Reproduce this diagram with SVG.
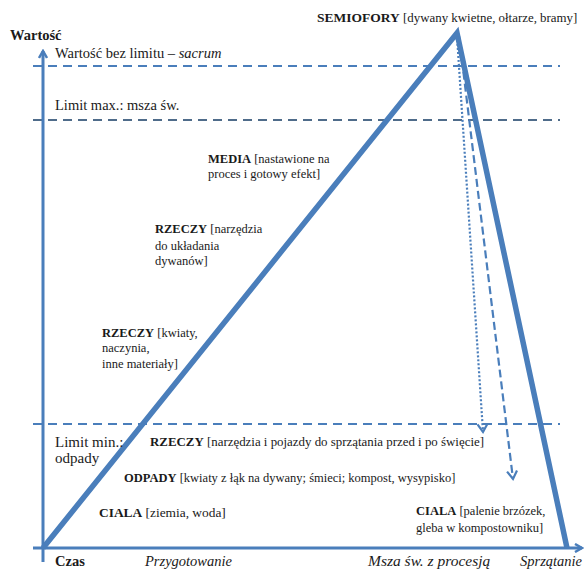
<svg xmlns="http://www.w3.org/2000/svg" width="585" height="570" viewBox="0 0 585 570" font-family="Liberation Serif, Times New Roman, serif">
<style>
text{fill:#1a1a1a}
.t{font-size:12.5px}
.tm{font-size:13.4px}
.l{font-size:14.5px}
.b{font-weight:bold}
.i{font-style:italic}
.ax{stroke:#4a7ebb;stroke-width:3;fill:none}
.tri{stroke:#4a7ebb;stroke-width:5.5;fill:none;stroke-linejoin:miter}
.dl{stroke-width:1.8;stroke-dasharray:9 6;fill:none}
</style>
<defs>
<marker id="ah" markerWidth="10" markerHeight="10" refX="8" refY="5" orient="auto" markerUnits="userSpaceOnUse">
<path d="M1,1 L8,5 L1,9" fill="none" stroke="#4a7ebb" stroke-width="2.5"/>
</marker>
<marker id="ah2" markerWidth="12" markerHeight="12" refX="9" refY="6" orient="auto" markerUnits="userSpaceOnUse">
<path d="M1,1 L9,6 L1,11" fill="none" stroke="#4a7ebb" stroke-width="2.2"/>
</marker>
</defs>
<g id="connectors">
<line class="dl" x1="33" y1="66" x2="560" y2="66" stroke="#4a7ebb"/>
<line class="dl" x1="33" y1="120" x2="560" y2="120" stroke="#4f6c8a"/>
<line class="dl" x1="33" y1="424" x2="560" y2="424" stroke="#4a7ebb"/>
<line class="ax" x1="43" y1="562" x2="43" y2="51" marker-end="url(#ah)"/>
<line class="ax" x1="33" y1="548" x2="582" y2="548" marker-end="url(#ah)"/>
<polyline class="tri" points="43,548 457,33 567,548"/>
<line x1="457" y1="36" x2="483" y2="432" stroke="#4a7ebb" stroke-width="2.2" stroke-dasharray="2 2" marker-end="url(#ah2)"/>
<line x1="459" y1="36" x2="513" y2="479" stroke="#4a7ebb" stroke-width="2.2" stroke-dasharray="8 4" marker-end="url(#ah2)"/>
</g>
<g id="axis-labels">
<text class="l b" x="10" y="40">Wartość</text>
<text class="l b" x="55" y="566">Czas</text>
<text class="l i" x="145" y="566">Przygotowanie</text>
<text class="i" x="368" y="566" style="font-size:15.5px">Msza św. z procesją</text>
<text class="l i" x="520" y="566">Sprzątanie</text>
</g>
<g id="limit-sacrum"><text class="l" x="55" y="58">Wartość bez limitu – <tspan class="i">sacrum</tspan></text></g>
<g id="limit-max"><text class="l" x="55" y="110">Limit max.: msza św.</text></g>
<g id="limit-min"><text x="55" y="447" style="font-size:15px">Limit min.:</text><text x="55" y="463" style="font-size:15px">odpady</text></g>
<g id="semiofory"><text x="317" y="22" style="font-size:12.9px"><tspan class="b" style="font-size:13.5px">SEMIOFORY</tspan> [dywany kwietne, ołtarze, bramy]</text></g>
<g id="media"><text class="t" x="208" y="163"><tspan class="b">MEDIA</tspan> [nastawione na</text><text class="t" x="208" y="178">proces i gotowy efekt]</text></g>
<g id="rzeczy1"><text class="t" x="155" y="233"><tspan class="b">RZECZY</tspan> [narzędzia</text><text class="t" x="155" y="250">do układania</text><text class="t" x="155" y="265">dywanów]</text></g>
<g id="rzeczy2"><text class="t" x="102" y="337"><tspan class="b">RZECZY</tspan> [kwiaty,</text><text class="t" x="102" y="352">naczynia,</text><text class="t" x="102" y="368">inne materiały]</text></g>
<g id="rzeczy3"><text x="150" y="446" style="font-size:12.9px"><tspan class="b">RZECZY</tspan> [narzędzia i pojazdy do sprzątania przed i po święcie]</text></g>
<g id="odpady"><text class="t" x="124" y="482"><tspan class="b">ODPADY</tspan> [kwiaty z łąk na dywany; śmieci; kompost, wysypisko]</text></g>
<g id="ciala1"><text class="tm" x="99" y="517"><tspan class="b">CIALA</tspan> [ziemia, woda]</text></g>
<g id="ciala2"><text class="t" x="416" y="515"><tspan class="b">CIALA</tspan> [palenie brzózek,</text><text class="t" x="416" y="532">gleba w kompostowniku]</text></g>
</svg>
